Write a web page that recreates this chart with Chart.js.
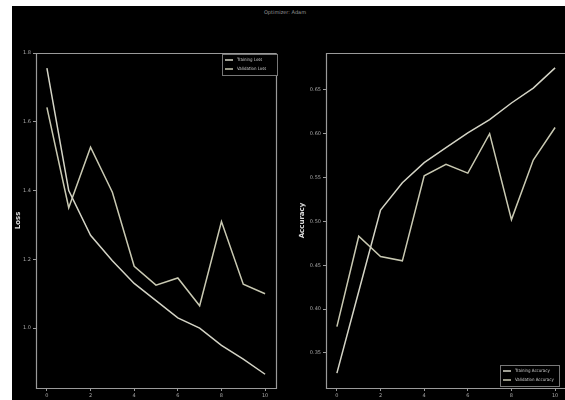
<!DOCTYPE html>
<html>
<head>
<meta charset="utf-8">
<script src="https://cdn.jsdelivr.net/npm/chart.js@4"></script>
<style>
  html, body { margin: 0; padding: 0; background: #fff; overflow: hidden; }
  #bg { position: absolute; left: 12px; top: 6px; width: 560px; height: 400px; background: #000; }
  #title { position: absolute; left: 235px; top: 9px; width: 100px; text-align: center;
           font: 5px "DejaVu Sans", sans-serif; color: #9a9a9a; }
  #lossWrap { position: absolute; left: 12px; top: 6px; width: 270px; height: 394px; }
  #accWrap { position: absolute; left: 290px; top: 6px; width: 292px; height: 394px; }
</style>
</head>
<body>
<div id="bg"></div>
<div id="title">Optimizer: Adam</div>
<div id="lossWrap"><canvas id="lossChart"></canvas></div>
<div id="accWrap"><canvas id="accChart"></canvas></div>
<script>
// values
var epochs = [0, 1, 2, 3, 4, 5, 6, 7, 8, 9, 10];
var trainLoss = [1.756, 1.40, 1.27, 1.196, 1.13, 1.08, 1.03, 1.0, 0.95, 0.91, 0.866];
var valLoss = [1.642, 1.35, 1.526, 1.395, 1.18, 1.125, 1.146, 1.065, 1.31, 1.128, 1.10];
var trainAcc = [0.327, 0.42, 0.513, 0.544, 0.567, 0.584, 0.601, 0.616, 0.635, 0.652, 0.675];
var valAcc = [0.38, 0.483, 0.46, 0.455, 0.552, 0.565, 0.555, 0.60, 0.502, 0.57, 0.607];
var xTicks = [0, 2, 4, 6, 8, 10];
var lossTicks = [1.0, 1.2, 1.4, 1.6, 1.8];
var accTicks = [0.35, 0.40, 0.45, 0.50, 0.55, 0.60, 0.65];

var frameColor = '#9a9a9a';
var textColor = '#a8a8a8';
var tickFont = { family: 'DejaVu Sans', size: 5 };

function pts(ys) {
	return ys.map(function(y, i){ return { x: epochs[i], y: y }; });
}

// box round the plot area, like matplotlib spines
// (right plot is cut off at the page edge, so no right side there)
var framePlugin = {
	id: 'frame',
	afterDraw: function(chart, args, opts) {
		var a = chart.chartArea, ctx = chart.ctx;
		var l = a.left + 0.5, t = a.top + 0.5, r = a.right + 0.5, b = a.bottom + 0.5;
		ctx.save();
		ctx.strokeStyle = frameColor;
		ctx.lineWidth = 1.2;
		ctx.beginPath();
		ctx.moveTo(r, t);
		ctx.lineTo(l, t);
		ctx.lineTo(l, b);
		ctx.lineTo(r, b);
		if (!opts.openRight) ctx.lineTo(r, t);
		ctx.stroke();
		ctx.restore();
	}
};

// small legend box inside the plot
var boxLegend = {
	id: 'boxLegend',
	afterDraw: function(chart, args, opts) {
		var a = chart.chartArea, ctx = chart.ctx;
		var w = opts.width, h = opts.height;
		var x = opts.right - w, y = opts.corner === 'top' ? a.top + 1 : a.bottom - h - 1;
		ctx.save();
		ctx.fillStyle = '#000';
		ctx.fillRect(x, y, w, h);
		ctx.strokeStyle = '#777';
		ctx.lineWidth = 1;
		ctx.strokeRect(x + 0.5, y + 0.5, w - 1, h - 1);
		ctx.font = '4.4px "DejaVu Sans Condensed", "DejaVu Sans"';
		ctx.textBaseline = 'middle';
		chart.data.datasets.forEach(function(ds, i) {
			var ry = y + 6 + i * 9;
			ctx.strokeStyle = ds.borderColor;
			ctx.lineWidth = 1.5;
			ctx.beginPath();
			ctx.moveTo(x + 3, ry);
			ctx.lineTo(x + 11, ry);
			ctx.stroke();
			ctx.fillStyle = '#c8c8c8';
			ctx.fillText(ds.label, x + 15, ry);
		});
		ctx.restore();
	}
};

function makeChart(id, series, yTicks, yMin, yMax, yTitle, yWidth, titlePad, legendOpts, padRight, openRight) {
	return new Chart(id, {
		type: 'line',
		data: {
			datasets: [{
				label: series[0].label,
				data: pts(series[0].data),
				borderColor: '#d4d4c6',
				borderWidth: 1.5,
				pointRadius: 0,
				tension: 0
			}, {
				label: series[1].label,
				data: pts(series[1].data),
				borderColor: '#c9c9b2',
				borderWidth: 1.5,
				pointRadius: 0,
				tension: 0
			}]
		},
		options: {
			responsive: true,
			maintainAspectRatio: false,
			animation: false,
			layout: { padding: { top: 47, right: padRight, left: 0, bottom: 0 } },
			plugins: {
				legend: { display: false },
				tooltip: { enabled: false },
				boxLegend: legendOpts,
				frame: { openRight: openRight }
			},
			scales: {
				x: {
					type: 'linear',
					min: -0.5,
					max: 10.5,
					afterBuildTicks: function(s){ s.ticks = xTicks.map(function(v){ return { value: v }; }); },
					afterFit: function(s){ s.height = 12; },
					ticks: { color: textColor, font: tickFont, padding: 2, maxRotation: 0,
						callback: function(v){ return String(v); } },
					grid: { drawOnChartArea: false, drawTicks: true, tickLength: 3, color: frameColor },
					border: { display: false }
				},
				y: {
					type: 'linear',
					min: yMin,
					max: yMax,
					afterBuildTicks: function(s){ s.ticks = yTicks.map(function(v){ return { value: v }; }); },
					afterFit: function(s){ s.width = yWidth; },
					ticks: { color: textColor, font: tickFont, padding: 2,
						callback: function(v){ return v.toFixed(yTicks[0] < 0.9 ? 2 : 1); } },
					grid: { drawOnChartArea: false, drawTicks: true, tickLength: 3, color: frameColor },
					border: { display: false },
					title: { display: true, text: yTitle, color: '#dcdcdc',
						font: { family: 'DejaVu Sans', size: 7, weight: 'bold' },
						padding: { top: titlePad, bottom: 0 } }
				}
			}
		},
		plugins: [framePlugin, boxLegend]
	});
}

var lossChart = makeChart('lossChart',
	[{ label: 'Training Loss', data: trainLoss }, { label: 'Validation Loss', data: valLoss }],
	lossTicks, 0.826, 1.80, 'Loss', 24, 2,
	{ corner: 'top', width: 56, height: 22, right: 266 }, 6, false);

var accChart = makeChart('accChart',
	[{ label: 'Training Accuracy', data: trainAcc }, { label: 'Validation Accuracy', data: valAcc }],
	accTicks, 0.310, 0.692, 'Accuracy', 36, 8,
	{ corner: 'bottom', width: 60, height: 22, right: 270 }, 16, true);
</script>
</body>
</html>
